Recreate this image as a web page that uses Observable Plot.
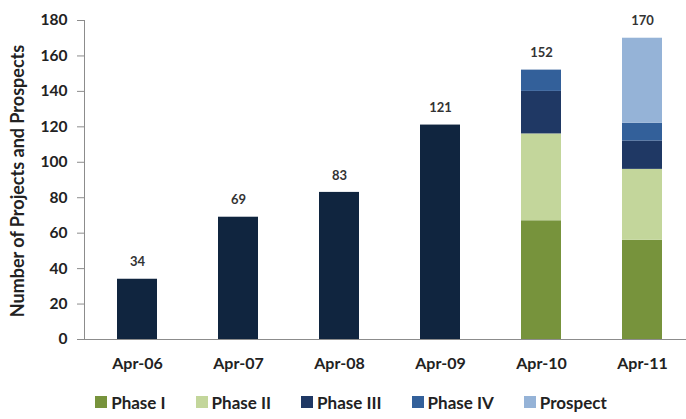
<!DOCTYPE html>
<html>
<head>
<meta charset="utf-8">
<script src="https://cdn.jsdelivr.net/npm/d3@7"></script>
<script src="https://cdn.jsdelivr.net/npm/@observablehq/plot@0.6"></script>
<style>
  html, body { margin: 0; padding: 0; background: #fff; }
  body { width: 686px; height: 419px; overflow: hidden; font-family: Lato, "Open Sans", sans-serif; }
  #legend { display: flex; justify-content: center; align-items: center; gap: 30px;
            height: 34px; font-size: 17px; font-weight: 700; color: #222; padding-left: 16px; }
  #legend .item { display: flex; align-items: center; gap: 4px; }
  #legend .sw { width: 12px; height: 12px; display: inline-block; }
</style>
</head>
<body>
<div id="chart"></div>
<div id="legend"></div>
<script>
// Fiscal year snapshots (April of each year)
const periods = ["Apr-06", "Apr-07", "Apr-08", "Apr-09", "Apr-10", "Apr-11"];

// Early years are reported only as a single total
const earlyPeriods = ["Apr-06", "Apr-07", "Apr-08", "Apr-09"];
const earlyTotals = [34, 69, 83, 121];

// Later years are split by development phase
const phasedPeriods = ["Apr-10", "Apr-11"];
const phases = ["Phase I", "Phase II", "Phase III", "Phase IV", "Prospect"];
const phaseI = [67, 56];
const phaseII = [49, 40];
const phaseIII = [24, 16];
const phaseIV = [12, 10];
const prospect = [0, 48];
const phasedTotals = [152, 170];

const phaseColors = ["#77933c", "#c3d69b", "#1f3864", "#33609a", "#95b3d7"];
const totalKey = "All projects";
const totalColor = "#10253f";
const yTitle = "Number of Projects and Prospects";

// Long-format table for the stacked bars
const rows = [];
earlyPeriods.forEach((p, i) => rows.push({period: p, series: totalKey, value: earlyTotals[i]}));
const phaseValues = [phaseI, phaseII, phaseIII, phaseIV, prospect];
phasedPeriods.forEach((p, j) => {
  phases.forEach((s, k) => {
    if (phaseValues[k][j] > 0) rows.push({period: p, series: s, value: phaseValues[k][j]});
  });
});

const labels = [
  ...earlyPeriods.map((p, i) => ({period: p, total: earlyTotals[i]})),
  ...phasedPeriods.map((p, i) => ({period: p, total: phasedTotals[i]}))
];

const chart = Plot.plot({
  width: 686,
  height: 385,
  marginLeft: 84,
  marginRight: 0,
  marginTop: 20,
  marginBottom: 46,
  style: {fontFamily: "Lato, 'Open Sans', sans-serif", fontWeight: 700, color: "#222"},
  x: {domain: periods, paddingInner: 0.6, paddingOuter: 0.27, align: 0.58, label: null},
  y: {domain: [0, 180], label: null},
  color: {domain: [totalKey, ...phases], range: [totalColor, ...phaseColors]},
  marks: [
    Plot.barY(rows, {x: "period", y: "value", fill: "series", order: [totalKey, ...phases]}),
    Plot.ruleY([0], {stroke: "#8c8c8c"}),
    Plot.frame({anchor: "left", stroke: "#8c8c8c"}),
    Plot.axisY({
      ticks: d3.range(0, 181, 20), tickSize: 7, tickPadding: 10,
      stroke: "#8c8c8c", fontSize: 15.5, fill: "#222", label: null
    }),
    Plot.text([yTitle], {text: d => d, frameAnchor: "left", textAnchor: "middle",
      rotate: -90, dx: -66, dy: 1, fontSize: 18, fontWeight: 700, fill: "#222"}),
    Plot.axisX({tickSize: 0, tickPadding: 18, fontSize: 16, fill: "#222"}),
    Plot.text(labels, {x: "period", y: "total", text: d => String(d.total), dy: -17,
      fontSize: 13, fill: "#333", fontWeight: 700})
  ]
});
document.getElementById("chart").appendChild(chart);

// Legend built from the same phase lists
const legend = document.getElementById("legend");
phases.forEach((s, k) => {
  const item = document.createElement("span");
  item.className = "item";
  const sw = document.createElement("span");
  sw.className = "sw";
  sw.style.background = phaseColors[k];
  item.appendChild(sw);
  item.appendChild(document.createTextNode(s));
  legend.appendChild(item);
});
</script>
</body>
</html>
